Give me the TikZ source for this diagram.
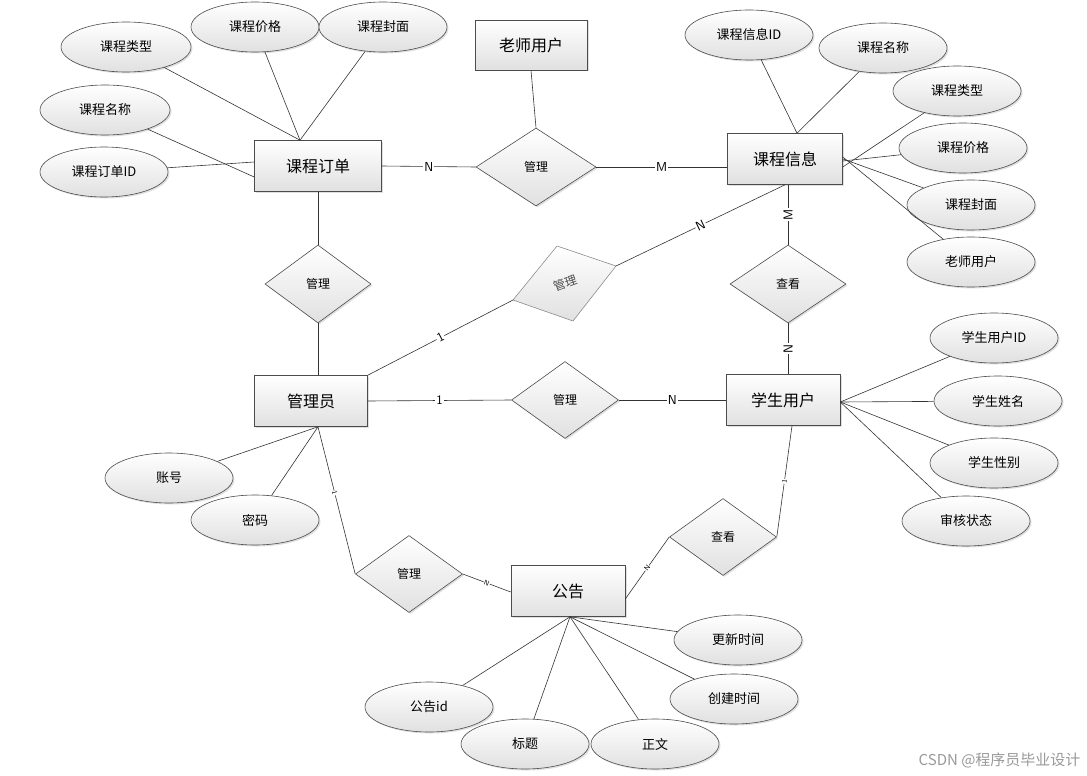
\documentclass[tikz,border=0pt]{standalone}
\usepackage{fontspec}
\newfontfamily\cjk{Noto Sans CJK SC}
\usetikzlibrary{shapes.geometric,shadows}
\begin{document}
\begin{tikzpicture}[x=1pt,y=-1pt,font=\cjk,
  shade box/.style={draw=black!70,line width=0.6pt,top color=white,bottom color=black!12,drop shadow={opacity=0.25,shadow xshift=1.5pt,shadow yshift=-1.5pt}},
  ent/.style={shade box,rectangle,minimum width=114pt,minimum height=51pt,font=\cjk\fontsize{16}{16}\selectfont,inner sep=0pt},
  rel/.style={shade box,diamond,aspect=1.45,minimum width=108pt,minimum height=77pt,inner sep=0pt,font=\cjk\fontsize{12}{12}\selectfont},
  att/.style={shade box,ellipse,minimum width=128pt,minimum height=50pt,inner sep=0pt,font=\cjk\fontsize{13}{13}\selectfont},
  ln/.style={draw=black!80,line width=0.6pt},
  card/.style={font=\sffamily\fontsize{13}{13}\selectfont,fill=white,inner sep=1pt},
  tiny/.style={font=\sffamily\fontsize{7}{7}\selectfont,fill=white,inner sep=0.5pt}]
\useasboundingbox (0,0) rectangle (1087,776);
% entities
\node[ent,minimum width=127pt] (ko) at (318,166) {课程订单};
\node[ent,minimum width=112pt,minimum height=50pt] (ls) at (531,45) {老师用户};
\node[ent,minimum width=115pt] (kx) at (785,159) {课程信息};
\node[ent,minimum width=113pt] (gl) at (311,401) {管理员};
\node[ent] (xs) at (783,400) {学生用户};
\node[ent] (gg) at (568,591) {公告};
% relations
\node[rel,minimum width=120pt,minimum height=78pt] (r1) at (536,167) {管理};
\node[rel,minimum width=106pt,minimum height=78pt] (r2) at (318,284) {管理};
\node[rel,minimum width=116pt,minimum height=78pt] (r3) at (788,284) {查看};
\node[rel,minimum width=107pt,minimum height=77pt] (r4) at (565,400) {管理};
\node[rel,minimum width=107pt,minimum height=77pt] (r5) at (409,574) {管理};
\node[rel,minimum width=107pt,minimum height=77pt] (r6) at (723,537) {查看};
% rotated diamond
\coordinate (dl) at (513,300); \coordinate (dt) at (557,246);
\coordinate (dr) at (616,266); \coordinate (db) at (573,321);
\draw[draw=black!45,line width=0.6pt,top color=white,bottom color=black!12] (dl) -- (dt) -- (dr) -- (db) -- cycle;
\node[font=\cjk\fontsize{12}{12}\selectfont,text=black!70,rotate=20,inner sep=0pt] (r7) at (565,283) {管理};
% attributes
\node[att,minimum width=130pt] (a1) at (126,47) {课程类型};
\node[att] (a2) at (255,27) {课程价格};
\node[att] (a3) at (383,27) {课程封面};
\node[att,minimum width=130pt] (a4) at (105,110) {课程名称};
\node[att] (a5) at (104,172) {课程订单ID};
\node[att] (b1) at (749,35) {课程信息ID};
\node[att] (b2) at (883,48) {课程名称};
\node[att] (b3) at (957,91) {课程类型};
\node[att] (b4) at (963,148) {课程价格};
\node[att] (b5) at (971,205) {课程封面};
\node[att] (b6) at (971,262) {老师用户};
\node[att] (c1) at (994,338) {学生用户ID};
\node[att] (c2) at (998,401) {学生姓名};
\node[att] (c3) at (994,463) {学生性别};
\node[att] (c4) at (966,521) {审核状态};
\node[att] (d1) at (169,478) {账号};
\node[att] (d2) at (255,520) {密码};
\node[att] (e1) at (738,640) {更新时间};
\node[att] (e2) at (734,699) {创建时间};
\node[att] (e3) at (429,707) {公告id};
\node[att] (e4) at (525,744) {标题};
\node[att] (e5) at (655,744) {正文};
% attribute lines
\coordinate (kot) at ([xshift=-18pt]ko.north);
\foreach \a in {a1,a2,a3} \draw[ln] (\a) -- (kot);
\draw[ln] (a4) -- ([yshift=-11pt]ko.west);
\draw[ln] (a5) -- ([yshift=4pt]ko.west);
\coordinate (kxt) at ([xshift=12pt]kx.north);
\draw[ln] (b1) -- (kxt); \draw[ln] (b2) -- (kxt);
\foreach \a/\s in {b3/-8,b4/-2,b5/0,b6/2} \draw[ln] (\a) -- ([yshift=\s pt]kx.east);
\coordinate (xse) at ([yshift=-2pt]xs.east);
\foreach \a in {c1,c2,c3,c4} \draw[ln] (\a) -- (xse);
\coordinate (glb) at ([xshift=7pt]gl.south);
\draw[ln] (d1) -- (glb); \draw[ln] (d2) -- (glb);
\coordinate (ggb) at ([xshift=2pt]gg.south);
\foreach \a in {e1,e2,e3,e4,e5} \draw[ln] (\a) -- (ggb);
% relationship lines
\draw[ln] (ko.east) -- node[card]{N} (r1.west);
\draw[ln] (r1.east) -- node[card]{M} (r1.east -| kx.west);
\draw[ln] (ls.south) -- (r1.north);
\draw[ln] (ko.south) -- (r2.north);
\draw[ln] (r2.south) -- (gl.north -| r2.south);
\draw[ln] (gl.north east) -- node[card,sloped]{1} (dl);
\draw[ln] (dr) -- node[card,sloped]{N} (kx.south);
\draw[ln] (kx.south -| r3.north) -- node[card,rotate=90]{M} (r3.north);
\draw[ln] (r3.south) -- node[card,rotate=90]{N} (xs.north -| r3.south);
\draw[ln] (gl.east) -- node[card]{1} (r4.west);
\draw[ln] (r4.east) -- node[card]{N} (xs.west);
\draw[ln] (glb) -- node[tiny,sloped,pos=0.45]{1} (r5.west);
\draw[ln] (r5.east) -- node[tiny,sloped]{N} ([yshift=-1pt]gg.west);
\draw[ln] ([yshift=-8pt]gg.east) -- node[tiny,sloped]{N} (r6.west);
\draw[ln] (r6.east) -- node[tiny,sloped]{1} ([xshift=9pt]xs.south);
\node[font=\cjk\fontsize{15}{15}\selectfont,text=black!40,anchor=east] (wm) at (1084,760) {CSDN @程序员毕业设计};
\end{tikzpicture}
\end{document}
